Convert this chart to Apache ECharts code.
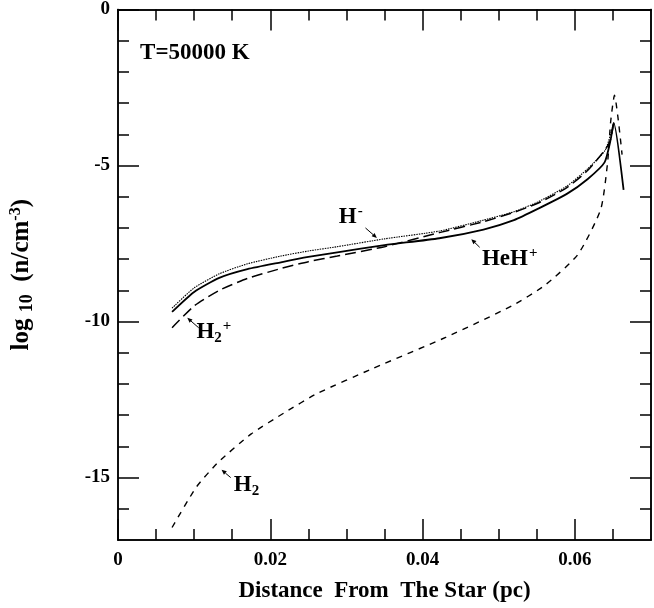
<!DOCTYPE html>
<html><head><meta charset="utf-8">
<script src="https://cdn.jsdelivr.net/npm/echarts@6/dist/echarts.min.js"></script>
<style>html,body{margin:0;padding:0;background:#fff}#c{width:654px;height:608px}</style>
</head><body><div id="c"></div>
<script>
// ---- data ----
const hehX = [0.0071,0.0100,0.0133,0.0170,0.0214,0.0250,0.0288,0.0350,0.0422,0.0480,0.0520,0.0552,0.0590,0.0617,0.0639,0.0647,0.0651,0.0664];
const hehY = [-9.69,-9.05,-8.60,-8.32,-8.10,-7.93,-7.78,-7.55,-7.33,-7.05,-6.75,-6.38,-5.90,-5.43,-4.90,-4.17,-3.63,-5.78];
const hmX = [0.0071,0.0100,0.0133,0.0170,0.0214,0.0250,0.0288,0.0350,0.0422,0.0480,0.0520,0.0552,0.0590,0.0617,0.0640,0.0651];
const hmY = [-9.57,-8.92,-8.47,-8.15,-7.90,-7.74,-7.60,-7.35,-7.10,-6.75,-6.48,-6.16,-5.65,-5.10,-4.50,-3.63];
const h2pX = [0.0071,0.0100,0.0133,0.0170,0.0214,0.0250,0.0288,0.0350,0.0422,0.0480,0.0520,0.0552,0.0590,0.0617,0.0645,0.0651];
const h2pY = [-10.20,-9.50,-9.00,-8.62,-8.30,-8.08,-7.90,-7.60,-7.15,-6.80,-6.50,-6.20,-5.70,-5.15,-4.30,-3.63];
const h2X = [0.0071,0.0103,0.0132,0.0175,0.0220,0.0262,0.0335,0.0431,0.0517,0.0560,0.0604,0.0634,0.0643,0.0647,0.0652,0.0662];
const h2Y = [-16.6,-15.3,-14.5,-13.6,-12.9,-12.3,-11.5,-10.5,-9.50,-8.85,-7.85,-6.40,-4.90,-3.60,-2.75,-4.65];
const xMajor = [0, 0.02, 0.04, 0.06];
const xMinor = [0.005,0.01,0.015,0.025,0.03,0.035,0.045,0.05,0.055,0.065];
const yMajor = [0, -5, -10, -15];
const yMinor = [-1,-2,-3,-4,-6,-7,-8,-9,-11,-12,-13,-14,-16];

const FONT = '"Liberation Serif","Times New Roman",serif';
const chart = echarts.init(document.getElementById('c'), null, {renderer:'canvas'});
const pts = (xs, ys) => xs.map((x, i) => [x, ys[i]]);

function xAx(pos, ticks, len, labels) {
  return {
    type:'value', position:pos, min:0, max:0.07,
    axisLine:{show:true, onZero:false, lineStyle:{color:'#000', width:1.5}},
    axisTick:{show:true, inside:true, length:len, customValues:ticks, lineStyle:{color:'#000', width:1.5}},
    axisLabel: labels ? {show:true, customValues:xMajor, margin:11, color:'#000', fontFamily:FONT, fontWeight:'bold', fontSize:19,
      formatter: v => v === 0 ? '0' : v.toFixed(2)} : {show:false},
    splitLine:{show:false},
    name: labels ? 'Distance  From  The Star (pc)' : '',
    nameLocation:'middle', nameGap:40,
    nameTextStyle:{color:'#000', fontFamily:FONT, fontWeight:'bold', fontSize:23}
  };
}
function yAx(pos, ticks, len, labels) {
  return {
    type:'value', position:pos, min:-17, max:0,
    axisLine:{show:true, onZero:false, lineStyle:{color:'#000', width:1.5}},
    axisTick:{show:true, inside:true, length:len, customValues:ticks, lineStyle:{color:'#000', width:1.5}},
    axisLabel: labels ? {show:true, customValues:yMajor, margin:8, color:'#000', fontFamily:FONT, fontWeight:'bold', fontSize:19} : {show:false},
    splitLine:{show:false},
    name: labels ? 'log {s|10}  (n/cm{p|-3})' : '',
    nameLocation:'middle', nameGap:82, nameRotate:90,
    nameTextStyle:{color:'#000', fontFamily:FONT, fontWeight:'bold', fontSize:25,
      rich:{s:{fontFamily:FONT, fontWeight:'bold', fontSize:18, verticalAlign:'bottom', padding:[10,0,0,0]},
            p:{fontFamily:FONT, fontWeight:'bold', fontSize:16, verticalAlign:'top', padding:[0,0,12,0]}}}
  };
}

chart.setOption({
  animation:false,
  grid:{left:115, right:3, top:5, bottom:65, containLabel:false},
  xAxis:[xAx('bottom', xMajor, 21, true), xAx('bottom', xMinor, 11, false), xAx('top', xMajor, 21, false), xAx('top', xMinor, 11, false)],
  yAxis:[yAx('left', yMajor, 21, true), yAx('left', yMinor, 11, false), yAx('right', yMajor, 21, false), yAx('right', yMinor, 11, false)],
  series:[
    {name:'HeH+', type:'line', data:pts(hehX, hehY), showSymbol:false, smooth:0.2, lineStyle:{color:'#000', width:1.8}},
    {name:'H-', type:'line', data:pts(hmX, hmY), showSymbol:false, smooth:0.2, lineStyle:{color:'#000', width:1.1, type:[1.5,1]}},
    {name:'H2+', type:'line', data:pts(h2pX, h2pY), showSymbol:false, smooth:0.2, lineStyle:{color:'#000', width:1.5, type:[11,5]}},
    {name:'H2', type:'line', data:pts(h2X, h2Y), showSymbol:false, smooth:0.2, lineStyle:{color:'#000', width:1.4, type:[6,6]}}
  ]
});

// ---- annotations (data coordinates) ----
const annText = [
  {t:'T=50000 K', x:0.0029, y:-1.4, size:23},
  {t:'H{p|-}', x:0.0290, y:-6.65, size:23},
  {t:'HeH{p|+}', x:0.0478, y:-8.0, size:23},
  {t:'H{s|2}{p|+}', x:0.0103, y:-10.35, size:23},
  {t:'H{s|2}', x:0.0152, y:-15.25, size:23}
];
const annArrow = [
  {x0:0.0325, y0:-7.0, x1:0.0340, y1:-7.32},
  {x0:0.0475, y0:-7.62, x1:0.0464, y1:-7.36},
  {x0:0.0106, y0:-10.2, x1:0.0091, y1:-9.88},
  {x0:0.0148, y0:-15.0, x1:0.0136, y1:-14.75}
];
const P = (x, y) => chart.convertToPixel({xAxisIndex:0, yAxisIndex:0}, [x, y]);
const g = [];
annText.forEach(a => {
  const p = P(a.x, a.y);
  g.push({type:'text', x:p[0], y:p[1], style:{text:a.t, fill:'#000', font:'bold ' + a.size + 'px ' + FONT, verticalAlign:'middle', align:'left',
    rich:{s:{font:'bold 15px ' + FONT, verticalAlign:'bottom', padding:[12,0,0,0]}, p:{font:'bold 15px ' + FONT, verticalAlign:'top', padding:[0,0,12,1]}}}});
});
annArrow.forEach(a => {
  const p0 = P(a.x0, a.y0), p1 = P(a.x1, a.y1);
  const dx = p1[0]-p0[0], dy = p1[1]-p0[1], L = Math.hypot(dx, dy), ux = dx/L, uy = dy/L;
  const h = 5, w = 2.2;
  const bx = p1[0]-ux*h, by = p1[1]-uy*h;
  g.push({type:'polyline', shape:{points:[p0, [bx, by]]}, style:{stroke:'#000', lineWidth:1}});
  g.push({type:'polygon', shape:{points:[p1, [bx-uy*w, by+ux*w], [bx+uy*w, by-ux*w]]}, style:{fill:'#000'}});
});
chart.setOption({graphic:g});
</script></body></html>
